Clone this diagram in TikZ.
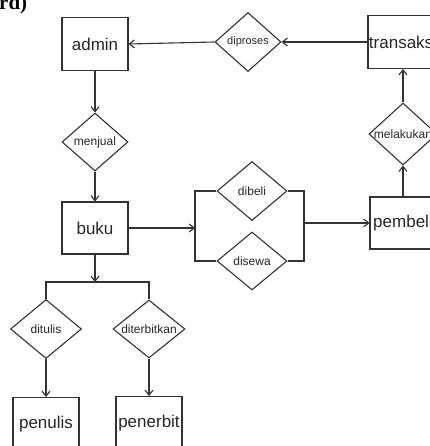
\documentclass[tikz,border=0pt]{standalone}
\usepackage{fontspec}
\setmainfont{Liberation Sans}
\newfontfamily\judulfont{Liberation Serif}
\usetikzlibrary{arrows.meta,shapes.geometric}

\begin{document}
\begin{tikzpicture}[x=1pt, y=-1pt,
    box/.style={draw=black!80, line width=1.1pt, minimum width=66pt, minimum height=53pt, inner sep=1pt, text=black!85, font=\fontsize{17}{17}\selectfont},
    rel/.style={diamond, draw=black!80, line width=1.1pt, inner sep=0pt, minimum width=68pt, minimum height=58pt, text=black!85, font=\fontsize{12}{12}\selectfont,
        execute at begin node=\hbox to 0pt\bgroup\hss, execute at end node=\hss\egroup},
    arr/.style={-{Straight Barb[length=5pt,width=8pt]}, line width=1.1pt, draw=black!80},
    lin/.style={line width=1.1pt, draw=black!80}
]
\useasboundingbox (0,0) rectangle (429,446);
\node[anchor=base west, inner sep=0pt, font=\judulfont\bfseries\fontsize{21}{21}\selectfont] (judul) at (-1,10) {rd)};
% entitas
\node[box] (admin) at (95,44) {admin};
\node[box, minimum width=70pt] (transaksi) at (403,42) {transaksi};
\node[box, minimum height=52pt] (buku) at (95,228) {buku};
\node[box, minimum height=52pt] (pembeli) at (403,223) {pembeli};
\node[box] (penulis) at (46,424) {penulis};
\node[box] (penerbit) at (149,423) {penerbit};
% relasi
\node[rel, minimum width=66pt, minimum height=59pt, font=\fontsize{11}{11}\selectfont] (diproses) at (248,42) {diproses};
\node[rel, minimum width=66pt] (menjual) at (95,142) {menjual};
\node[rel, minimum width=70pt, minimum height=59pt] (dibeli) at (252,191) {dibeli};
\node[rel, minimum width=70pt] (disewa) at (252,261) {disewa};
\node[rel, minimum height=62pt] (melakukan) at (403,134) {melakukan};
\node[rel, minimum width=71pt, minimum height=59pt] (ditulis) at (46,329) {ditulis};
\node[rel, minimum width=72pt] (diterbitkan) at (149,329) {diterbitkan};
% titik cabang
\coordinate (jl) at (195,228);
\coordinate (jr) at (304,223);
\coordinate (bs) at (95,282);
% garis
\draw[arr] (transaksi.west) -- (diproses.east);
\draw[arr] (diproses.west) -- (admin.east);
\draw[arr] (admin.south) -- (menjual.north);
\draw[arr] (menjual.south) -- (buku.north);
\draw[arr] (buku.east) -- (jl);
\draw[lin] (dibeli.west) -| (jl) |- (disewa.west);
\draw[lin] (dibeli.east) -| (jr) |- (disewa.east);
\draw[arr] (jr) -- (pembeli.west);
\draw[arr] (pembeli.north) -- (melakukan.south);
\draw[arr] (melakukan.north) -- (transaksi.south);
\draw[arr] (buku.south) -- (bs);
\draw[lin] (ditulis.north) |- (bs) -| (diterbitkan.north);
\draw[arr] (ditulis.south) -- (penulis.north);
\draw[arr] (diterbitkan.south) -- (penerbit.north);
\end{tikzpicture}
\end{document}
